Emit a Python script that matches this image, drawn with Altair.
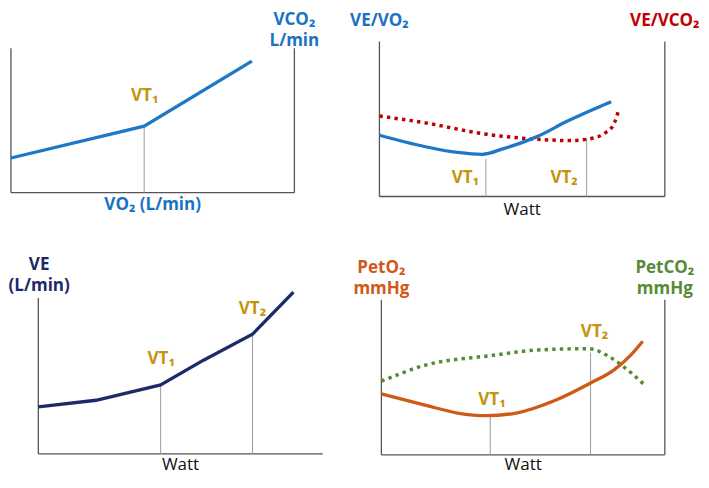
import altair as alt
import pandas as pd

# ---------------- data (arbitrary units 0-100 per panel) ----------------
# Panel 1: VCO2 vs VO2
p1_vo2 = [0, 47, 85]
p1_vco2 = [24, 46, 91]
p1_vt = [47]
p1_vt_top = [46]

# Panel 2: VE/VO2 and VE/VCO2 vs Watt
p2_watt_a = [0, 16.1, 27.4, 36.0, 43.5, 54.8, 66.1, 81.2]
p2_vevo2 = [39.5, 32.1, 28.4, 27.2, 30.9, 38.3, 48.8, 61.1]
p2_watt_b = [0, 16.1, 37.7, 54.8, 66.8, 72.9, 78.8, 81.8, 83.2, 83.9]
p2_vevco2 = [51.9, 47.5, 40.1, 37.0, 36.1, 37.0, 40.7, 45.7, 51.9, 56.8]
p2_vt = [37.3, 72.6]
p2_vt_top = [24.1, 37.7]

# Panel 3: VE vs Watt
p3_watt = [0, 20.3, 43.0, 58.1, 75.3, 89.7]
p3_ve = [30.1, 34.4, 44.2, 60.1, 76.7, 103.7]
p3_vt = [43.0, 75.3]
p3_vt_top = [44.2, 76.7]

# Panel 4: PetO2 and PetCO2 vs Watt
p4_watt_a = [0, 15.4, 26.9, 37.2, 47.6, 61.4, 74.0, 82.1, 87.8, 92.2]
p4_peto2 = [39.3, 32.1, 27.0, 25.3, 27.0, 35.2, 46.5, 54.8, 64.0, 73.3]
p4_watt_b = [0, 15.4, 38.4, 55.6, 72.9, 79.8, 85.5, 92.4]
p4_petco2 = [47.5, 57.8, 64.0, 67.7, 68.5, 64.0, 56.8, 45.9]
p4_vt = [38.4, 73.8]
p4_vt_top = [24.9, 66.0]

# VT labels: (panel, x, y, text)
vt_labels = [
    (1, 47.2, 66.9, "VT₁"),
    (2, 30.1, 11.7, "VT₁"),
    (2, 64.7, 11.7, "VT₂"),
    (3, 43.2, 60.9, "VT₁"),
    (3, 75.3, 92.6, "VT₂"),
    (4, 39.0, 35.2, "VT₁"),
    (4, 75.2, 79.0, "VT₂"),
]

BLUE_T = "#1a72c2"
NAVY = "#1c2a68"
RED = "#c00000"
ORANGE = "#cf5a17"
GREEN = "#568a36"
BLUE = "#1f77c8"
GOLD = "#c4940c"
AXIS = "#555555"
VTLINE = "#9c9c9c"

# Axis titles: (panel, x, y of first line, text, color, weight)  ("\n" = line break)
titles = [
    (1, 50, -8.6, "VO₂ (L/min)", BLUE_T, "bold"),
    (1, 100, 119.6, "VCO₂\nL/min", BLUE_T, "bold"),
    (2, 0, 113.3, "VE/VO₂", BLUE_T, "bold"),
    (2, 100, 113.3, "VE/VCO₂", RED, "bold"),
    (2, 50, -8.6, "Watt", "#111111", "normal"),
    (3, 0.3, 120.9, "VE\n(L/min)", NAVY, "bold"),
    (3, 50, -7.4, "Watt", "#111111", "normal"),
    (4, 0, 120.4, "PetO₂\nmmHg", ORANGE, "bold"),
    (4, 100, 120.4, "PetCO₂\nmmHg", GREEN, "bold"),
    (4, 50, -6.8, "Watt", "#111111", "normal"),
]

# which vertical axis lines each panel has
panel_axes = {1: ["left", "right"], 2: ["left", "right"], 3: ["left"], 4: ["left", "right"]}

# ---------------- layout (panel frames in reference pixels) ----------------
W, H = 693, 466
SX = W / 709
SY = H / 487
Y0 = 0
FRAMES = {1: (3, 293, 42, 193), 2: (380, 672, 35, 197), 3: (31, 322, 303, 466), 4: (382, 672, 305, 467)}
FONT = "Open Sans"


def sc(p):
    x0, x1, yt, yb = FRAMES[p]
    xs = alt.Scale(domain=[0, 100], range=[x0 * SX, x1 * SX], nice=False, zero=False)
    ys = alt.Scale(domain=[0, 100], range=[(yb - Y0) * SY, (yt - Y0) * SY], nice=False, zero=False)
    return xs, ys


def line_layer(p, xv, yv, color, dotted=False, smooth=True):
    xs, ys = sc(p)
    df = pd.DataFrame({"x": xv, "y": yv})
    kw = dict(color=color, strokeWidth=3.3, interpolate="monotone" if smooth else "linear")
    if dotted:
        kw.update(strokeDash=[3.4, 4.2], strokeCap="butt", strokeWidth=3.5)
    else:
        kw.update(strokeCap="butt", strokeJoin="miter")
    return alt.Chart(df).mark_line(**kw).encode(
        x=alt.X("x:Q", scale=xs, axis=None),
        y=alt.Y("y:Q", scale=ys, axis=None),
    )


def vrules(p, xv, y1, y2, color, width):
    xs, ys = sc(p)
    df = pd.DataFrame({"x": xv, "y": y1, "y2": y2})
    return alt.Chart(df).mark_rule(color=color, strokeWidth=width).encode(
        x=alt.X("x:Q", scale=xs, axis=None),
        y=alt.Y("y:Q", scale=ys, axis=None),
        y2="y2:Q",
    )


def hrule(p, color, width):
    xs, ys = sc(p)
    df = pd.DataFrame({"x": [0], "x2": [100], "y": [0]})
    return alt.Chart(df).mark_rule(color=color, strokeWidth=width).encode(
        x=alt.X("x:Q", scale=xs, axis=None),
        x2="x2:Q",
        y=alt.Y("y:Q", scale=ys, axis=None),
    )


def text_layer(p, xv, yv, tv, color, weight, size=17):
    xs, ys = sc(p)
    df = pd.DataFrame({"x": xv, "y": yv, "t": tv})
    return alt.Chart(df).mark_text(
        font=FONT, fontSize=size, fontWeight=weight, color=color, align="center",
        baseline="middle", lineBreak="\n", lineHeight=21,
    ).encode(
        x=alt.X("x:Q", scale=xs, axis=None),
        y=alt.Y("y:Q", scale=ys, axis=None),
        text="t:N",
    )


layers = []
for p in [1, 2, 3, 4]:
    xs_axes = [0 if a == "left" else 100 for a in panel_axes[p]]
    layers.append(vrules(p, xs_axes, [0] * len(xs_axes), [100] * len(xs_axes), AXIS, 1.3))
    layers.append(hrule(p, AXIS, 1.3))

layers.append(vrules(1, p1_vt, [0] * len(p1_vt), p1_vt_top, VTLINE, 1))
layers.append(vrules(2, p2_vt, [0] * len(p2_vt), p2_vt_top, VTLINE, 1))
layers.append(vrules(3, p3_vt, [0] * len(p3_vt), p3_vt_top, VTLINE, 1))
layers.append(vrules(4, p4_vt, [0] * len(p4_vt), p4_vt_top, VTLINE, 1))

layers.append(line_layer(1, p1_vo2, p1_vco2, BLUE, smooth=False))
layers.append(line_layer(2, p2_watt_b, p2_vevco2, RED, dotted=True))
layers.append(line_layer(2, p2_watt_a, p2_vevo2, BLUE))
layers.append(line_layer(3, p3_watt, p3_ve, NAVY, smooth=False))
layers.append(line_layer(4, p4_watt_b, p4_petco2, GREEN, dotted=True))
layers.append(line_layer(4, p4_watt_a, p4_peto2, ORANGE))

for p in [1, 2, 3, 4]:
    rows = [r for r in vt_labels if r[0] == p]
    layers.append(text_layer(p, [r[1] for r in rows], [r[2] for r in rows], [r[3] for r in rows], GOLD, "bold"))

for r in titles:
    layers.append(text_layer(r[0], [r[1]], [r[2]], [r[3]], r[4], r[5]))

chart = alt.layer(*layers).resolve_scale(x="independent", y="independent").properties(
    width=W, height=H, padding=0, autosize=alt.AutoSizeParams(type="none")
).configure_view(stroke=None)

chart.save("out.html", embed_options={"renderer": "svg", "actions": False})
